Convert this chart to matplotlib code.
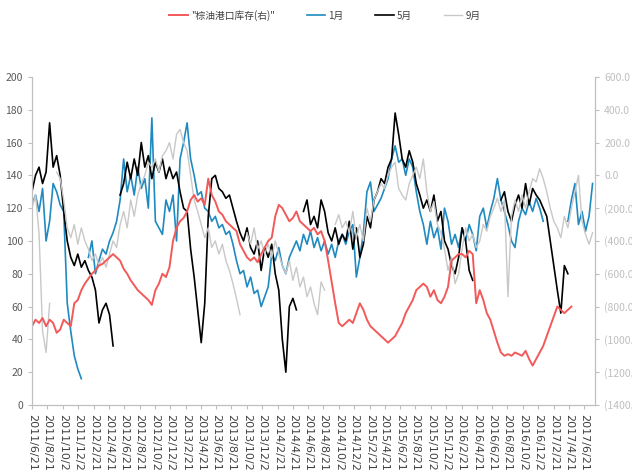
import numpy as np
import pandas as pd
import matplotlib
matplotlib.use("Agg")
import matplotlib.pyplot as plt

plt.rcParams['font.family'] = ['Noto Sans CJK SC', 'DejaVu Sans']

nan = np.nan
dates = pd.date_range('2011-06-21', periods=160, freq='14D')

# 1月 contract (left axis)
jan = [122, 128, 118, 132, 100, 112, 135, 130, 122, 118,
       62, 45, 30, 22, 16, nan, 90, 100, 80, 88,
       95, 92, 100, 105, 112, 125, 150, 130, 140, 128,
       145, 132, 138, 120, 175, 112, 108, 104, 125, 118,
       128, 100, 150, 160, 172, 150, 140, 128, 130, 120,
       118, 112, 115, 108, 110, 104, 106, 98, 88, 80,
       82, 72, 78, 68, 70, 60, 66, 72, 92, 88,
       96, 85, 80, 90, 95, 100, 94, 104, 98, 106,
       96, 102, 94, 100, 92, 98, 90, 100, 104, 98,
       106, 110, 78, 90, 105, 130, 136, 118, 122, 126,
       132, 138, 150, 158, 148, 150, 140, 150, 145, 130,
       118, 110, 98, 112, 102, 108, 95, 120, 112, 98,
       104, 96, 108, 100, 110, 104, 94, 115, 120, 108,
       118, 126, 138, 125, 118, 110, 100, 96, 112, 120,
       116, 124, 118, 126, 120, 112, nan, nan, nan, nan,
       nan, nan, 112, 125, 135, 110, 118, 106, 115, 135]

# 5月 contract (left axis)
may = [130, 140, 145, 135, 142, 172, 145, 152, 140, 118,
       100, 90, 85, 92, 84, 88, 82, 78, 70, 50,
       58, 62, 55, 36, nan, 128, 135, 148, 138, 150,
       140, 160, 145, 152, 138, 148, 142, 150, 138, 145,
       138, 142, 130, 120, 118, 95, 78, 58, 38, 62,
       115, 138, 140, 132, 130, 126, 128, 120, 112, 105,
       100, 108, 96, 92, 100, 82, 96, 90, 98, 80,
       70, 40, 20, 60, 65, 58, nan, 118, 125, 110,
       115, 108, 125, 118, 105, 100, 108, 98, 104, 100,
       112, 95, 108, 90, 98, 115, 108, 125, 130, 138,
       135, 145, 150, 178, 165, 150, 145, 155, 148, 135,
       128, 120, 125, 118, 128, 112, 118, 100, 95, 85,
       80, 90, 108, 100, 82, 76, nan, nan, nan, nan,
       nan, nan, nan, 125, 130, 118, 112, 122, 128, 120,
       135, 122, 132, 128, 125, 120, 115, 100, 85, 70,
       56, 85, 80, nan, nan, nan, nan, nan, nan, nan]

# 9月 contract (left axis)
sep = [120, 128, 105, 45, 32, 62, nan, 142, 138, 125,
       108, 102, 110, 98, 108, 100, 95, 88, 92, 85,
       90, 84, 92, 100, 96, 110, 118, 108, 125, 115,
       128, 135, 140, 148, 145, 150, 142, 152, 155, 160,
       150, 165, 168, 160, 155, 140, 125, 118, 110, 102,
       108, 96, 100, 92, 98, 88, 82, 74, 65, 55,
       nan, 105, 98, 108, 95, 100, 92, 98, 90, 100,
       92, 85, 80, 88, 76, 84, 72, 78, 66, 72,
       62, 55, 75, 70, nan, nan, 110, 116, 108, 112,
       105, 118, 102, 110, 100, 120, 112, 125, 130, 135,
       132, 140, 145, 148, 132, 128, 125, 135, 140, 145,
       138, 150, 130, 118, 124, 110, 105, 95, 82, 90,
       74, 80, 95, 108, 100, 104, 96, 100, 110, 106,
       115, 120, 126, 118, 125, 66, 115, 125, 118, 128,
       120, 130, 138, 136, 144, 138, 130, 120, 112, 108,
       102, 115, 108, 120, 130, 140, 112, 104, 98, 105]

# 棕油港口库存 (right axis)
stock = [-920, -880, -900, -870, -920, -880, -900, -960, -940, -880,
         -900, -920, -780, -760, -700, -660, -630, -600, -580, -550,
         -540, -520, -500, -480, -500, -520, -570, -600, -640, -670,
         -700, -720, -740, -760, -790, -700, -660, -600, -620, -560,
         -400, -320, -280, -260, -220, -150, -120, -160, -140, -180,
         -20, -120, -160, -220, -240, -280, -300, -320, -340, -420,
         -460, -500, -520, -500, -530, -480, -440, -400, -380, -250,
         -180, -200, -240, -280, -260, -220, -280, -300, -320, -340,
         -320, -360, -340, -400, -520, -650, -780, -900, -920, -900,
         -880, -900, -840, -780, -820, -880, -920, -940, -960, -980,
         -1000, -1020, -1000, -980, -940, -900, -840, -800, -760, -700,
         -680, -660, -680, -740, -700, -760, -780, -740, -680, -520,
         -500, -480, -480, -500, -460, -480, -780, -700, -760, -840,
         -880, -950, -1020, -1080, -1100, -1090, -1100, -1080, -1090, -1100,
         -1070, -1120, -1160, -1120, -1080, -1040, -980, -920, -860, -800,
         -820, -840, -820, -800, nan, nan, nan, nan, nan, nan]

tick_dates = [pd.Timestamp(2011 + (5 + 2 * k) // 12, (5 + 2 * k) % 12 + 1, 21) for k in range(37)]
tick_labels = [f"{d.year}/{d.month}/{d.day}" for d in tick_dates]

fig = plt.figure(figsize=(6.32, 4.72), dpi=100)
ax = fig.add_axes([0.0506, 0.142, 0.891, 0.695])
ax2 = ax.twinx()

ax.plot(dates, jan, color='#1f8ac0', lw=1.2, label='1月')
ax.plot(dates, may, color='black', lw=1.2, label='5月')
ax.plot(dates, sep, color='#c8c8c8', lw=1.0, label='9月')
ax2.plot(dates, stock, color='#f25a5a', lw=1.4, label='"棕油港口库存(右)"')

ax.set_xlim(pd.Timestamp('2011-06-21'), pd.Timestamp('2017-08-04'))
ax.set_ylim(0, 200)
ax.set_yticks(range(0, 201, 20))
ax2.set_ylim(-1400, 600)
r_ticks = list(range(-1400, 601, 200))
ax2.set_yticks(r_ticks)
ax2.set_yticklabels([f"{v:.1f}" if v >= 0 else f"({-v:.1f})" for v in r_ticks])
for lab, v in zip(ax2.get_yticklabels(), r_ticks):
    lab.set_color('#595959' if v >= 0 else '#e84c4c')

ax.set_xticks(tick_dates)
ax.set_xticklabels(tick_labels, rotation=-90, va='top', ha='center', fontsize=8,
                   color='#404040', family='DejaVu Sans')

for a in (ax, ax2):
    a.spines['top'].set_visible(False)
    for s in ('left', 'right', 'bottom'):
        a.spines[s].set_color('#bfbfbf')
    a.tick_params(axis='both', colors='#bfbfbf', length=3, width=0.8)
ax.tick_params(axis='y', labelcolor='#595959', labelsize=7.5)
ax.tick_params(axis='x', labelcolor='#404040')
ax2.tick_params(axis='y', labelsize=7.5)

h1, l1 = ax.get_legend_handles_labels()
h2, l2 = ax2.get_legend_handles_labels()
fig.legend(h2 + h1, l2 + l1, loc='center', bbox_to_anchor=(0.514, 0.968), ncol=4,
           frameon=False, fontsize=7, handlelength=1.9, columnspacing=3.3,
           handletextpad=0.3, labelcolor='#404040')

fig.savefig('out.png', dpi=100)
